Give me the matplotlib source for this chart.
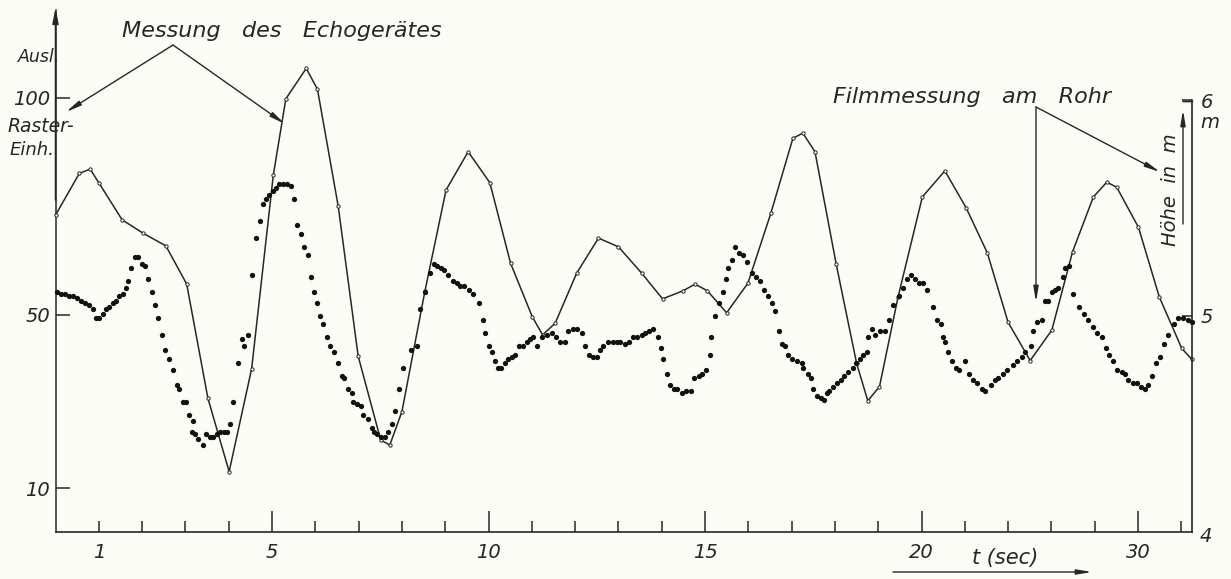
import matplotlib
matplotlib.use("Agg")
import matplotlib.pyplot as plt

# ---------------- data ----------------
# Echo sounder measurement (solid line), time in s, deflection in grid units
echo_t = [0.00, 0.55, 0.80, 1.01, 1.54, 2.03, 2.55, 3.03, 3.52, 4.01, 4.53, 5.03, 5.32, 5.79,
          6.05, 6.53, 6.99, 7.51, 7.72, 8.00, 8.53, 9.02, 9.53, 10.03, 10.51, 11.01, 11.25,
          11.54, 12.04, 12.54, 13.00, 13.54, 14.02, 14.50, 14.77, 15.05, 15.50, 15.99, 16.52,
          17.03, 17.26, 17.54, 18.03, 18.50, 18.76, 19.03, 19.46, 20.02, 20.54, 21.03, 21.52,
          22.00, 22.51, 23.01, 23.49, 23.97, 24.28, 24.51, 25.01, 25.49, 26.01, 26.24]
echo_v = [72.9, 82.5, 83.5, 80.2, 71.8, 68.7, 65.8, 57.0, 30.7, 13.8, 37.5, 82.1, 99.7, 106.7,
          101.9, 74.9, 40.4, 21.1, 19.9, 27.6, 55.3, 78.7, 87.5, 80.4, 61.8, 49.5, 45.3,
          48.0, 59.6, 67.6, 65.6, 59.5, 53.6, 55.5, 57.0, 55.5, 50.4, 57.2, 73.3,
          90.6, 91.8, 87.5, 61.6, 38.8, 30.1, 33.4, 54.1, 77.1, 83.1, 74.6, 64.2,
          48.2, 39.4, 46.4, 64.5, 77.1, 80.5, 79.3, 70.1, 54.1, 42.2, 39.7]

# Film measurement at the pipe (dots), time in s, height in m
film_t = [0.03, 0.12, 0.22, 0.32, 0.41, 0.50, 0.58, 0.68, 0.78, 0.86, 0.94, 1.01, 1.09, 1.17,
          1.24, 1.32, 1.40, 1.47, 1.55, 1.63, 1.68, 1.74, 1.84, 1.91, 1.99, 2.07, 2.14, 2.22,
          2.30, 2.37, 2.45, 2.53, 2.62, 2.71, 2.80, 2.86, 2.94, 3.01, 3.09, 3.17, 3.15, 3.22,
          3.30, 3.40, 3.48, 3.57, 3.64, 3.72, 3.80, 3.88, 3.95, 4.03, 4.11, 4.22, 4.30, 4.35,
          4.45, 4.53, 4.63, 4.72, 4.79, 4.86, 4.94, 5.02, 5.09, 5.17, 5.25, 5.34, 5.43, 5.51,
          5.57, 5.66, 5.74, 5.82, 5.89, 5.97, 6.03, 6.11, 6.18, 6.26, 6.34, 6.43, 6.52,
          6.61, 6.66, 6.76, 6.84, 6.88, 6.97, 7.05, 7.11, 7.22, 7.30, 7.36, 7.43, 7.51, 7.61,
          7.69, 7.76, 7.84, 7.94, 8.02, 8.20, 8.34, 8.42, 8.53, 8.65, 8.73, 8.82, 8.90, 8.97,
          9.07, 9.17, 9.27, 9.34, 9.43, 9.56, 9.65, 9.79, 9.87, 9.92, 10.02, 10.07, 10.15,
          10.23, 10.30, 10.38, 10.46, 10.54, 10.61, 10.71, 10.80, 10.88, 10.96, 11.03, 11.11,
          11.23, 11.34, 11.46, 11.57, 11.65, 11.77, 11.84, 11.94, 12.05, 12.15, 12.23, 12.33,
          12.41, 12.51, 12.58, 12.65, 12.77, 12.87, 12.96,
          13.04, 13.15, 13.25, 13.34, 13.44, 13.54, 13.61, 13.71, 13.81, 13.92, 13.98, 14.02,
          14.13, 14.19, 14.28, 14.36, 14.46, 14.56, 14.67, 14.75, 14.85, 14.92, 15.02, 15.12,
          15.15, 15.23, 15.32, 15.41, 15.49, 15.54, 15.62, 15.69, 15.79, 15.88, 15.96, 16.08,
          16.18, 16.27, 16.36, 16.46, 16.54, 16.62, 16.72, 16.77, 16.85, 16.92, 17.00, 17.12,
          17.23, 17.27, 17.39, 17.44, 17.50, 17.59, 17.67, 17.75, 17.81, 17.87, 17.96, 18.04,
          18.13, 18.21, 18.31, 18.41, 18.49, 18.58, 18.66, 18.73, 18.77, 18.85, 18.93, 19.04,
          19.16, 19.26, 19.35, 19.47,
          19.57, 19.66, 19.75, 19.85, 19.95, 20.03, 20.12, 20.26, 20.36, 20.44, 20.50, 20.54,
          20.62, 20.70, 20.80, 20.87, 21.00, 21.10, 21.20, 21.29, 21.39, 21.47, 21.60, 21.70,
          21.77, 21.88, 21.98, 22.11, 22.20, 22.31, 22.39, 22.54, 22.58, 22.66, 22.78, 22.85,
          22.93, 23.01, 23.08, 23.16, 23.26, 23.31, 23.41, 23.50, 23.64, 23.75, 23.85, 23.95,
          24.05, 24.16, 24.26, 24.34, 24.43, 24.52, 24.62, 24.70, 24.78, 24.88, 24.98, 25.06,
          25.16, 25.24, 25.32, 25.42, 25.51, 25.60, 25.70, 25.82, 25.93, 26.05, 26.16, 26.24]
film_h = [5.11, 5.10, 5.10, 5.09, 5.09, 5.08, 5.07, 5.06, 5.05, 5.03, 4.99, 4.99, 5.01, 5.03,
          5.04, 5.06, 5.07, 5.09, 5.10, 5.13, 5.16, 5.22, 5.27, 5.27, 5.24, 5.23, 5.17, 5.11,
          5.05, 4.99, 4.91, 4.84, 4.80, 4.75, 4.68, 4.66, 4.60, 4.60, 4.54, 4.51, 4.46, 4.45,
          4.43, 4.40, 4.45, 4.44, 4.44, 4.45, 4.46, 4.46, 4.46, 4.50, 4.60, 4.78, 4.89, 4.86,
          4.91, 5.19, 5.36, 5.44, 5.52, 5.54, 5.56, 5.58, 5.59, 5.61, 5.61, 5.61, 5.60, 5.54,
          5.42, 5.38, 5.32, 5.28, 5.18, 5.11, 5.06, 5.00, 4.96, 4.90, 4.86, 4.83, 4.78,
          4.72, 4.71, 4.66, 4.64, 4.60, 4.59, 4.58, 4.54, 4.52, 4.48, 4.46, 4.45, 4.44, 4.44,
          4.46, 4.50, 4.56, 4.66, 4.76, 4.84, 4.86, 5.03, 5.11, 5.20, 5.24, 5.23, 5.22, 5.21,
          5.19, 5.16, 5.15, 5.14, 5.14, 5.12, 5.10, 5.06, 4.98, 4.92, 4.86, 4.83, 4.79,
          4.76, 4.76, 4.78, 4.80, 4.81, 4.82, 4.86, 4.86, 4.88, 4.89, 4.90, 4.86,
          4.90, 4.91, 4.92, 4.90, 4.88, 4.88, 4.93, 4.94, 4.94, 4.92, 4.86, 4.82,
          4.81, 4.81, 4.84, 4.86, 4.88, 4.88, 4.88,
          4.88, 4.87, 4.88, 4.90, 4.90, 4.91, 4.92, 4.93, 4.94, 4.90, 4.85, 4.80,
          4.73, 4.68, 4.66, 4.66, 4.64, 4.65, 4.65, 4.71, 4.72, 4.73, 4.75, 4.82,
          4.90, 5.00, 5.06, 5.11, 5.17, 5.22, 5.26, 5.32, 5.29, 5.28, 5.25, 5.20,
          5.18, 5.16, 5.12, 5.09, 5.06, 5.02, 4.93, 4.87, 4.86, 4.82, 4.80, 4.79,
          4.78, 4.76, 4.73, 4.71, 4.66, 4.63, 4.62, 4.61, 4.64, 4.65, 4.67, 4.69,
          4.70, 4.72, 4.74, 4.76, 4.78, 4.80, 4.82, 4.83, 4.90, 4.94, 4.91, 4.93,
          4.93, 4.98, 5.05, 5.09,
          5.13, 5.17, 5.19, 5.17, 5.15, 5.15, 5.12, 5.04, 4.98, 4.96, 4.90, 4.88,
          4.83, 4.79, 4.76, 4.75, 4.79, 4.73, 4.70, 4.69, 4.66, 4.65, 4.68, 4.70,
          4.71, 4.73, 4.75, 4.77, 4.79, 4.81, 4.83, 4.86, 4.93, 4.97, 4.98, 5.07,
          5.07, 5.11, 5.12, 5.13, 5.18, 5.22, 5.23, 5.10, 5.04, 5.01, 4.98, 4.95,
          4.92, 4.90, 4.85, 4.82, 4.79, 4.75, 4.74, 4.73, 4.70, 4.69, 4.69, 4.67,
          4.66, 4.68, 4.72, 4.78, 4.81, 4.87, 4.91, 4.96, 4.99, 4.99, 4.98, 4.97]

x_major = [5, 10, 15, 20, 25]
x_major_labels = ["5", "10", "15", "20", "30"]
x_minor = [1, 2, 3, 4, 6, 7, 8, 9, 11, 12, 13, 14, 16, 17, 18, 19, 21, 22, 23, 24, 26]
x_minor_labels = ["1"] + [""] * 20
y_left_ticks = [10, 50, 100]
y_right_ticks = [5, 6]

# ---------------- layout ----------------
W, H = 1231, 579
BG = "#fcfcf7"
INK = "#262626"

fig = plt.figure(figsize=(W / 100, H / 100), dpi=100, facecolor=BG)

x0, x1 = 55.5, 1192.0      # pixel positions of t=0 and right axis
yb, yt = 531.5, 10.0       # pixel positions of bottom axis and arrow tip
px_per_s = 43.3
px_per_unit = 4.34
px_per_m = 215.75

ax = fig.add_axes([x0 / W, 1 - yb / H, (x1 - x0) / W, (yb - yt) / H])
ax.set_facecolor("none")
ax.set_xlim(0, (x1 - x0) / px_per_s)
ax.set_ylim(0, (yb - yt) / px_per_unit)

ax2 = ax.twinx()
ax2.set_ylim(4, 4 + (yb - yt) / px_per_m)

for a in (ax, ax2):
    for s in a.spines.values():
        s.set_visible(False)

ax.spines["bottom"].set_visible(True)
ax.spines["bottom"].set_linewidth(1.2)
ax.spines["bottom"].set_color(INK)
ax.spines["left"].set_visible(True)
ax.spines["left"].set_linewidth(1.1)
ax.spines["left"].set_color(INK)
ax2.spines["right"].set_visible(True)
ax2.spines["right"].set_linewidth(1.2)
ax2.spines["right"].set_color(INK)
ax2.spines["right"].set_bounds(4, 6)

tfont = dict(family="DejaVu Sans", style="italic")

# x ticks
ax.set_xticks(x_major)
ax.set_xticklabels(x_major_labels, fontsize=14, color=INK, **tfont)
ax.set_xticks(x_minor, minor=True)
ax.set_xticklabels(x_minor_labels, minor=True, fontsize=14, color=INK, **tfont)
ax.tick_params(axis="x", which="major", direction="in", length=15, width=1.1, color=INK, pad=8)
ax.tick_params(axis="x", which="minor", direction="in", length=8, width=1.1, color=INK, pad=8)

# left y ticks
ax.set_yticks(y_left_ticks)
ax.set_yticklabels([str(v) for v in y_left_ticks], fontsize=14, color=INK, **tfont)
ax.tick_params(axis="y", which="major", direction="in", length=10, width=1.1, color=INK, pad=4)

# right y ticks
ax2.set_yticks(y_right_ticks)
ax2.set_yticklabels([str(v) for v in y_right_ticks], fontsize=14, color=INK, **tfont)
ax2.tick_params(axis="y", which="major", direction="in", length=7, width=1.1, color=INK, pad=6)

# ---------------- data marks ----------------
n = min(len(echo_t), len(echo_v))
ax.plot(echo_t[:n], echo_v[:n], "-", color=INK, lw=1.1, marker="o", ms=2.4,
        mfc=BG, mec=INK, mew=0.7, zorder=3, clip_on=False)
m = min(len(film_t), len(film_h))
ax2.plot(film_t[:m], film_h[:m], "o", color="#111111", ms=3.8, mec="none", zorder=4, clip_on=False)


def P(x, y):
    """top-left based pixel position -> figure fraction"""
    return (x / W, 1 - y / H)


# left axis arrow
ax.annotate("", xy=P(55.5, 8), xycoords="figure fraction", xytext=P(55.5, 200),
            textcoords="figure fraction",
            arrowprops=dict(arrowstyle="-|>,head_length=0.9,head_width=0.18", color=INK, lw=1.1,
                            shrinkA=0, shrinkB=0))
# bottom "4" label at right
fig.text(*P(1200, 537), "4", fontsize=14, color=INK, ha="left", va="center", **tfont)
fig.text(*P(1200, 122), "m", fontsize=14, color=INK, ha="left", va="center", **tfont)

# left axis labels
fig.text(*P(18, 57), "Ausl.", fontsize=12.5, color=INK, ha="left", va="center", **tfont)
fig.text(*P(7, 127), "Raster-", fontsize=13.5, color=INK, ha="left", va="center", **tfont)
fig.text(*P(10, 150), "Einh.", fontsize=13, color=INK, ha="left", va="center", **tfont)

# titles / callouts
fig.text(*P(122, 31), "Messung   des   Echogerätes", fontsize=16, color=INK,
         ha="left", va="center", **tfont)
fig.text(*P(833, 97), "Filmmessung   am   Rohr", fontsize=16, color=INK,
         ha="left", va="center", **tfont)

arrow_kw = dict(arrowstyle="-|>,head_length=0.9,head_width=0.15", color=INK, lw=1.0,
                shrinkA=0, shrinkB=0)
for tip in [(66, 112), (285, 124)]:
    ax.annotate("", xy=P(*tip), xycoords="figure fraction", xytext=P(173, 45),
                textcoords="figure fraction", arrowprops=arrow_kw)
for tip in [(1036, 302), (1160, 172)]:
    ax.annotate("", xy=P(*tip), xycoords="figure fraction", xytext=P(1036, 107),
                textcoords="figure fraction", arrowprops=arrow_kw)

# right axis label with arrow
fig.text(*P(1171, 190), "Höhe  in  m", fontsize=14, color=INK, rotation=90,
         ha="center", va="center", **tfont)
ax.annotate("", xy=P(1183, 110), xycoords="figure fraction", xytext=P(1183, 224),
            textcoords="figure fraction", arrowprops=arrow_kw)
# top stub of right axis
ax.annotate("", xy=P(1183, 101.5), xycoords="figure fraction", xytext=P(1192.5, 101.5),
            textcoords="figure fraction",
            arrowprops=dict(arrowstyle="-", color=INK, lw=1.2, shrinkA=0, shrinkB=0))

# time axis label
fig.text(*P(1005, 558), "t (sec)", fontsize=15, color=INK, ha="center", va="center", **tfont)
ax.annotate("", xy=P(1092, 572), xycoords="figure fraction", xytext=P(893, 572),
            textcoords="figure fraction", arrowprops=arrow_kw)

fig.savefig("out.png", dpi=100, facecolor=BG)
